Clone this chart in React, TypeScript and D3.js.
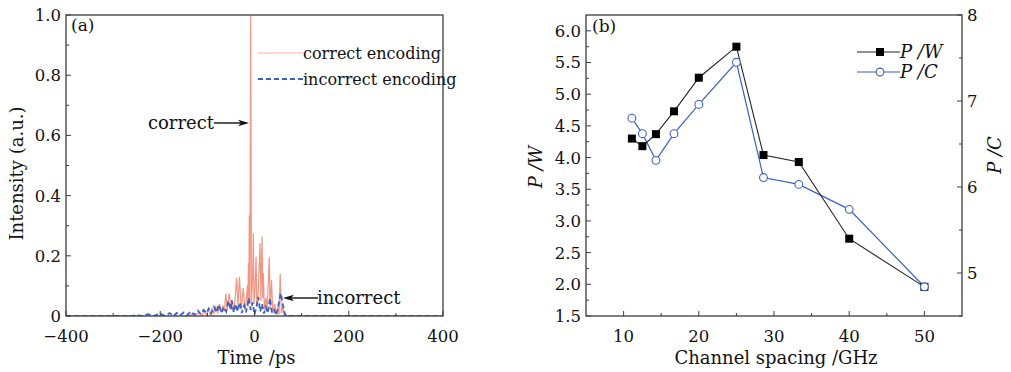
import React from 'react';
import * as d3 from 'd3';

// panel (a): temporal waveform as (time ps, intensity) points
const correctT = [-400, -140, -130, -125, -118, -112, -106, -102, -98, -94, -90, -86, -82, -78, -74, -71, -67, -64, -61, -58, -53.5, -50, -47, -44, -41, -38, -35, -32, -28, -24, -20, -17, -15, -14, -13, -12, -11, -10, -8, -6.5, -4, -2.5, -1, 1.5, 3.3, 5, 8, 11.7, 13.5, 16, 17.5, 18.7, 21, 24, 27, 31.4, 33, 36, 39, 43, 46, 50, 52, 54.5, 57, 60, 63, 70, 400];
const correctV = [0, 0, 0.008, 0, 0.012, 0.002, 0.018, 0.004, 0.022, 0.006, 0.025, 0.008, 0.03, 0.01, 0.04, 0.012, 0.035, 0.015, 0.075, 0.02, 0.075, 0.02, 0.05, 0.015, 0.06, 0.126, 0.03, 0.13, 0.02, 0.093, 0.02, 0.06, 0.103, 0.03, 0.175, 0.04, 0.335, 0.05, 1.0, 0.04, 0.12, 0.275, 0.04, 0.1, 0.197, 0.03, 0.08, 0.242, 0.05, 0.264, 0.06, 0.143, 0.02, 0.06, 0.03, 0.197, 0.02, 0.12, 0.01, 0.04, 0.01, 0.03, 0.005, 0.14, 0.01, 0.03, 0, 0, 0];
const incorrectT = [-400, -260, -250, -240, -225, -215, -200, -190, -180, -172, -165, -158, -150, -143, -135, -128, -120, -114, -108, -102, -97, -92, -86, -80, -76, -70, -65, -60, -55.6, -50, -48.5, -44, -40, -36, -31, -27, -22, -18, -12, -8, -4, 0, 4, 8, 12, 16, 20, 24, 28, 33, 37, 42, 46, 50, 55.6, 60, 64, 68, 400];
const incorrectV = [0, 0, 0.004, 0, 0.006, 0, 0.008, 0, 0.01, 0, 0.01, 0.002, 0.012, 0.003, 0.015, 0.004, 0.018, 0.006, 0.02, 0.01, 0.025, 0.008, 0.03, 0.012, 0.038, 0.01, 0.03, 0.015, 0.05, 0.02, 0.053, 0.012, 0.04, 0.015, 0.045, 0.01, 0.035, 0.012, 0.06, 0.02, 0.045, 0.005, 0.03, 0.063, 0.015, 0.04, 0.008, 0.03, 0.01, 0.06, 0.01, 0.02, 0.002, 0.03, 0.076, 0.04, 0.008, 0, 0];

const timeTicks = [-400, -200, 0, 200, 400];
const timeMinor = [-300, -100, 100, 300];
const intensityTicks = [0, 0.2, 0.4, 0.6, 0.8, 1.0];
const intensityMinor = [0.1, 0.3, 0.5, 0.7, 0.9];

// panel (b): channel spacing sweep
const spacing = [11.1, 12.5, 14.3, 16.7, 20, 25, 28.6, 33.3, 40, 50];
const pw = [4.3, 4.18, 4.37, 4.73, 5.26, 5.75, 4.04, 3.93, 2.72, 1.96];
const pc = [6.8, 6.62, 6.31, 6.62, 6.96, 7.45, 6.11, 6.03, 5.74, 4.84];

const spacingTicks = [10, 20, 30, 40, 50];
const spacingMinor = [15, 25, 35, 45];
const pwTicks = [1.5, 2.0, 2.5, 3.0, 3.5, 4.0, 4.5, 5.0, 5.5, 6.0];
const pwMinor = [1.75, 2.25, 2.75, 3.25, 3.75, 4.25, 4.75, 5.25, 5.75];
const pcTicks = [5, 6, 7, 8];
const pcMinor = [4.5, 5.5, 6.5, 7.5];

const FONT = '"DejaVu Serif", serif';
const FS = 16.5;
const TITLE = 18;
const FRAME = '#3c3c3c';
const RED = '#f18a76';
const BLUE = '#3b62c0';

const Arrow = ({ x1, x2, y }: { x1: number; x2: number; y: number }) => {
  const dir = x2 > x1 ? 1 : -1;
  const head = `M${x2},${y} L${x2 - dir * 11},${y - 3.2} L${x2 - dir * 8},${y} L${x2 - dir * 11},${y + 3.2} Z`;
  return (
    <g>
      <line x1={x1} x2={x2 - dir * 8} y1={y} y2={y} stroke="#111" strokeWidth={1.4} />
      <path d={head} fill="#111" />
    </g>
  );
};

const PanelA = () => {
  const left = 66, right = 443, top = 15, bottom = 316;
  const x = d3.scaleLinear().domain([-400, 400]).range([left, right]);
  const y = d3.scaleLinear().domain([0, 1]).range([bottom, top]);
  const line = d3.line<[number, number]>().x(d => x(d[0])).y(d => y(d[1]));
  const red = line(correctT.map((t, i) => [t, correctV[i]] as [number, number])) || '';
  const blue = line(incorrectT.map((t, i) => [t, incorrectV[i]] as [number, number])) || '';
  return (
    <g fontFamily={FONT} fontSize={FS} fill="#111">
      <defs>
        <clipPath id="clipA">
          <rect x={left} y={top} width={right - left} height={bottom - top} />
        </clipPath>
      </defs>
      <g clipPath="url(#clipA)">
        <path d={red} fill="none" stroke={RED} strokeOpacity={0.9} strokeWidth={1.2} strokeLinejoin="miter" />
        <path d={blue} fill="none" stroke={BLUE} strokeWidth={1.8} strokeDasharray="5,3" />
      </g>
      <rect x={left} y={top} width={right - left} height={bottom - top} fill="none" stroke={FRAME} strokeWidth={1.3} />
      {timeTicks.map(t => (
        <g key={t}>
          <line x1={x(t)} x2={x(t)} y1={bottom} y2={bottom - 5} stroke={FRAME} />
          <text x={x(t)} y={342} textAnchor="middle">{t < 0 ? `\u2212${-t}` : t}</text>
        </g>
      ))}
      {timeMinor.map(t => (
        <line key={t} x1={x(t)} x2={x(t)} y1={bottom} y2={bottom - 3} stroke={FRAME} />
      ))}
      {intensityTicks.map(v => (
        <g key={v}>
          <line x1={left} x2={left + 5} y1={y(v)} y2={y(v)} stroke={FRAME} />
          <text x={61} y={y(v)} dy="0.36em" textAnchor="end">{v === 0 ? '0' : v.toFixed(1)}</text>
        </g>
      ))}
      {intensityMinor.map(v => (
        <line key={v} x1={left} x2={left + 3} y1={y(v)} y2={y(v)} stroke={FRAME} />
      ))}
      <text x={(left + right) / 2 + 2} y={364} textAnchor="middle" fontSize={TITLE}>Time /ps</text>
      <text transform={`translate(23,${(top + bottom) / 2 + 8}) rotate(-90)`} textAnchor="middle" fontSize={TITLE}>Intensity (a.u.)</text>
      <text x={71} y={31} fontSize={17}>(a)</text>

      {/* legend */}
      <line x1={258} x2={303} y1={53} y2={53} stroke="#f7b0a2" strokeWidth={1.2} />
      <text x={303} y={59} fontSize={16}>correct encoding</text>
      <line x1={258} x2={303} y1={79} y2={79} stroke={BLUE} strokeWidth={1.8} strokeDasharray="5,3" />
      <text x={303} y={85} fontSize={16}>incorrect encoding</text>

      {/* annotations */}
      <text x={214} y={129} textAnchor="end" fontSize={TITLE}>correct</text>
      <Arrow x1={214} x2={249} y={123} />
      <text x={317} y={304} fontSize={TITLE}>incorrect</text>
      <Arrow x1={318} x2={283} y={298} />
    </g>
  );
};

const PanelB = () => {
  const left = 586, right = 962, top = 15, bottom = 316;
  const x = d3.scaleLinear().domain([5, 55]).range([left, right]);
  const yl = d3.scaleLinear().domain([1.5, 6.25]).range([bottom, top]);
  const yr = d3.scaleLinear().domain([4.5, 8]).range([bottom, top]);
  const lw = d3.line<number>().x((_, i) => x(spacing[i])).y(d => yl(d));
  const lc = d3.line<number>().x((_, i) => x(spacing[i])).y(d => yr(d));
  return (
    <g fontFamily={FONT} fontSize={FS} fill="#111">
      <path d={lc(pc) || ''} fill="none" stroke={BLUE} strokeWidth={1.2} />
      <path d={lw(pw) || ''} fill="none" stroke="#222" strokeWidth={1.1} />
      {pw.map((v, i) => (
        <rect key={i} x={x(spacing[i]) - 4} y={yl(v) - 4} width={8} height={8} fill="#000" />
      ))}
      {pc.map((v, i) => (
        <circle key={i} cx={x(spacing[i])} cy={yr(v)} r={3.9} fill="#fff" stroke={BLUE} strokeWidth={1.1} />
      ))}
      <rect x={left} y={top} width={right - left} height={bottom - top} fill="none" stroke={FRAME} strokeWidth={1.3} />
      {spacingTicks.map(t => (
        <g key={t}>
          <line x1={x(t)} x2={x(t)} y1={bottom} y2={bottom - 5} stroke={FRAME} />
          <text x={x(t)} y={342} textAnchor="middle">{t}</text>
        </g>
      ))}
      {spacingMinor.map(t => (
        <line key={t} x1={x(t)} x2={x(t)} y1={bottom} y2={bottom - 3} stroke={FRAME} />
      ))}
      {pwTicks.map(v => (
        <g key={v}>
          <line x1={left} x2={left + 5} y1={yl(v)} y2={yl(v)} stroke={FRAME} />
          <text x={581} y={yl(v)} dy="0.36em" textAnchor="end">{v.toFixed(1)}</text>
        </g>
      ))}
      {pwMinor.map(v => (
        <line key={v} x1={left} x2={left + 3} y1={yl(v)} y2={yl(v)} stroke={FRAME} />
      ))}
      {pcTicks.map(v => (
        <g key={v}>
          <line x1={right} x2={right - 5} y1={yr(v)} y2={yr(v)} stroke={FRAME} />
          <text x={967} y={yr(v)} dy="0.36em">{v}</text>
        </g>
      ))}
      {pcMinor.map(v => (
        <line key={v} x1={right} x2={right - 3} y1={yr(v)} y2={yr(v)} stroke={FRAME} />
      ))}
      <text x={(left + right) / 2 + 2} y={364} textAnchor="middle" fontSize={TITLE}>Channel spacing /GHz</text>
      <text transform="translate(542,167) rotate(-90)" textAnchor="middle" fontStyle="italic" fontSize={TITLE}>P /W</text>
      <text transform="translate(1001,155) rotate(-90)" textAnchor="middle" fontStyle="italic" fontSize={TITLE}>P /C</text>
      <text x={592} y={32} fontSize={17}>(b)</text>

      {/* legend */}
      <line x1={857} x2={900} y1={52} y2={52} stroke="#222" strokeWidth={1.1} />
      <rect x={876} y={48} width={8} height={8} fill="#000" />
      <text x={900} y={58} fontStyle="italic" fontSize={TITLE}>P /W</text>
      <line x1={857} x2={900} y1={72} y2={72} stroke={BLUE} strokeWidth={1.2} />
      <circle cx={880} cy={72} r={3.9} fill="#fff" stroke={BLUE} strokeWidth={1.1} />
      <text x={900} y={78} fontStyle="italic" fontSize={TITLE}>P /C</text>
    </g>
  );
};

export default function App() {
  return (
    <svg width={1011} height={372} style={{ position: 'absolute', left: 0, top: 0, background: '#fff' }}>
      <rect width={1011} height={372} fill="#fff" />
      <PanelA />
      <PanelB />
    </svg>
  );
}
